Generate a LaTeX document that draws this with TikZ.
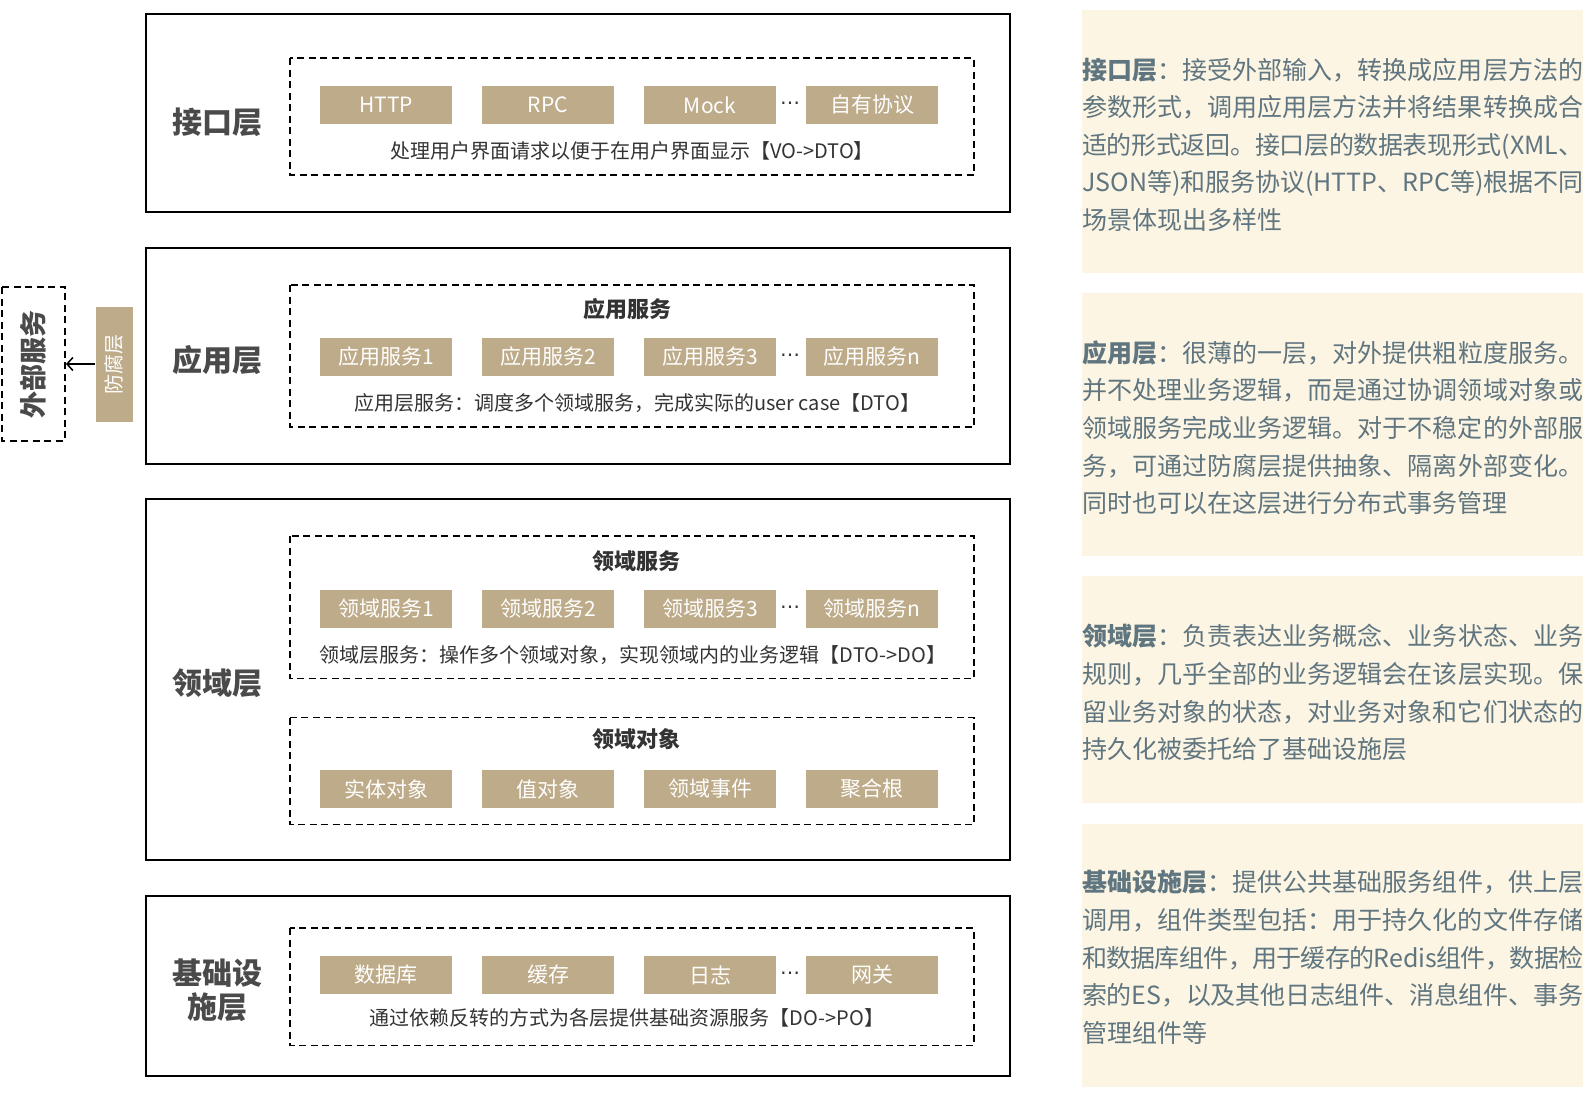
\documentclass[tikz,border=0pt]{standalone}
\usepackage{fontspec}
\setmainfont{Noto Sans CJK SC}
\newfontfamily\dotfont{DejaVu Sans}
\XeTeXlinebreaklocale "zh"
\XeTeXlinebreakskip=0pt plus 2pt minus 1pt
\usetikzlibrary{arrows.meta}
\definecolor{tanfill}{HTML}{BDAB89}
\definecolor{panelcol}{HTML}{FDF5E3}
\definecolor{ptextcol}{HTML}{5F7580}
\definecolor{labelcol}{HTML}{4A4A4A}
\definecolor{desccol}{HTML}{333333}
\tikzset{
  outerbox/.style={draw=black, line width=2pt},
  dbox/.style={draw=black, line width=1.8pt, dash pattern=on 7pt off 4.5pt},
  tbox/.style={fill=tanfill, text=white, minimum width=131.5pt, minimum height=38pt, inner sep=0pt, font=\fontsize{21}{21}\selectfont},
  layerlbl/.style={text=labelcol, font=\bfseries\fontsize{30}{34}\selectfont, align=center, inner sep=0pt},
  subtitle/.style={text=desccol, font=\bfseries\fontsize{22}{22}\selectfont, inner sep=0pt},
  desc/.style={text=desccol, font=\fontsize{20}{20}\selectfont, inner sep=0pt},
  dots/.style={text=desccol, font=\dotfont\fontsize{20}{20}\selectfont, inner sep=0pt},
  panel/.style={fill=panelcol, draw=none},
  ptext/.style={anchor=base west, inner sep=0pt, text=ptextcol, font=\fontsize{25}{25}\selectfont},
  pfull/.style={ptext, text width=501pt, align=justify},
}
\newcommand{\tanrow}[6]{%
  \node[tbox] (#1a) at (386,#2) {#3};
  \node[tbox] (#1b) at (548,#2) {#4};
  \node[tbox] (#1c) at (710,#2) {#5};
  \node[tbox] (#1d) at (872,#2) {#6};
}
\newcommand{\fl}[1]{\parfillskip=0pt\relax #1\par}
\begin{document}
\begin{tikzpicture}[x=1pt,y=-1pt]
\useasboundingbox (0,0) rectangle (1594,1098);
% outer layer boxes
\draw[outerbox] (145.7,14) rectangle (1010,211.5);
\draw[outerbox] (145.7,247.5) rectangle (1010,463.5);
\draw[outerbox] (145.7,499) rectangle (1010,859.5);
\draw[outerbox] (145.7,896) rectangle (1010,1075.5);
% dashed boxes
\draw[dbox] (290,58.3) rectangle (974,175);
\draw[dbox] (290,285) rectangle (974,427);
\draw[dbox] (290,536) rectangle (974,678.5);
\draw[dbox] (290,717.5) rectangle (974,824.5);
\draw[dbox] (290,928) rectangle (974,1045.5);
% layer labels
\node[layerlbl] (l1) at (217.6,122) {接口层};
\node[layerlbl] (l2) at (217.6,360) {应用层};
\node[layerlbl] (l3) at (217.6,683) {领域层};
\node[layerlbl] (l4) at (217.6,990) {基础设\\施层};
% row 1
\tanrow{r1}{105}{HTTP}{RPC}{Mock}{自有协议}
\node[dots] (e1) at (790,106) {⋯};
\node[desc] (d1) at (632,150.5) {处理用户界面请求以便于在用户界面显示【VO->DTO】};
% row 2
\node[subtitle] (s2) at (627,309) {应用服务};
\tanrow{r2}{356.7}{应用服务1}{应用服务2}{应用服务3}{应用服务n}
\node[dots] (e2) at (790,357.7) {⋯};
\node[desc] (d2) at (637,402.6) {应用层服务：调度多个领域服务，完成实际的user case【DTO】};
% row 3a
\node[subtitle] (s3) at (636,561) {领域服务};
\tanrow{r3}{609}{领域服务1}{领域服务2}{领域服务3}{领域服务n}
\node[dots] (e3) at (790,610) {⋯};
\node[desc] (d3) at (633,654.7) {领域层服务：操作多个领域对象，实现领域内的业务逻辑【DTO->DO】};
% row 3b
\node[subtitle] (s4) at (636,739) {领域对象};
\tanrow{r4}{789}{实体对象}{值对象}{领域事件}{聚合根}
% row 4
\tanrow{r5}{975}{数据库}{缓存}{日志}{网关}
\node[dots] (e5) at (790,976) {⋯};
\node[desc] (d5) at (627,1017.6) {通过依赖反转的方式为各层提供基础资源服务【DO->PO】};
% external service and anti-corruption layer
\node[dbox, rotate=90, minimum width=153.3pt, minimum height=63pt, inner sep=0pt,
      text=labelcol, font=\bfseries\fontsize{27}{27}\selectfont] (ext) at (33.5,364) {外部服务};
\node[fill=tanfill, rotate=90, minimum width=115pt, minimum height=37.6pt, inner sep=0pt,
      text=white, font=\fontsize{20}{20}\selectfont] (fang) at (114.4,364) {防腐层};
\draw[line width=1.5pt, -{Straight Barb[length=6pt,width=13pt,line width=1.5pt]}] (fang) -- (ext);
% right panels
\fill[panel] (1081.7,10) rectangle (1583,273.3);
\fill[panel] (1081.7,292.7) rectangle (1583,556);
\fill[panel] (1081.7,576) rectangle (1583,803);
\fill[panel] (1081.7,824) rectangle (1583,1087);
% panel 1
\node[pfull] (p1a) at (1082,79) {\fl{\textbf{接口层}：接受外部输入，转换成应用层方法的}};
\node[pfull] (p1b) at (1082,116.6) {\fl{参数形式，调用应用层方法并将结果转换成合}};
\node[pfull] (p1c) at (1082,154.2) {\fl{适的形式返回。接口层的数据表现形式(XML、}};
\node[pfull] (p1d) at (1082,191.8) {\fl{JSON等)和服务协议(HTTP、RPC等)根据不同}};
\node[ptext] (p1e) at (1082,229.4) {场景体现出多样性};
% panel 2
\node[pfull] (p2a) at (1082,362.3) {\fl{\textbf{应用层}：很薄的一层，对外提供粗粒度服务。}};
\node[pfull] (p2b) at (1082,399.9) {\fl{并不处理业务逻辑，而是通过协调领域对象或}};
\node[pfull] (p2c) at (1082,437.5) {\fl{领域服务完成业务逻辑。对于不稳定的外部服}};
\node[pfull] (p2d) at (1082,475.1) {\fl{务，可通过防腐层提供抽象、隔离外部变化。}};
\node[ptext] (p2e) at (1082,512.7) {同时也可以在这层进行分布式事务管理};
% panel 3
\node[pfull] (p3a) at (1082,645.9) {\fl{\textbf{领域层}：负责表达业务概念、业务状态、业务}};
\node[pfull] (p3b) at (1082,683.5) {\fl{规则，几乎全部的业务逻辑会在该层实现。保}};
\node[pfull] (p3c) at (1082,721.1) {\fl{留业务对象的状态，对业务对象和它们状态的}};
\node[ptext] (p3d) at (1082,758.7) {持久化被委托给了基础设施层};
% panel 4
\node[pfull] (p4a) at (1082,891.9) {\fl{\textbf{基础设施层}：提供公共基础服务组件，供上层}};
\node[pfull] (p4b) at (1082,929.5) {\fl{调用，组件类型包括：用于持久化的文件存储}};
\node[pfull] (p4c) at (1082,967.1) {\fl{和数据库组件，用于缓存的Redis组件，数据检}};
\node[pfull] (p4d) at (1082,1004.7) {\fl{索的ES，以及其他日志组件、消息组件、事务}};
\node[ptext] (p4e) at (1082,1042.3) {管理组件等};
\end{tikzpicture}
\end{document}
